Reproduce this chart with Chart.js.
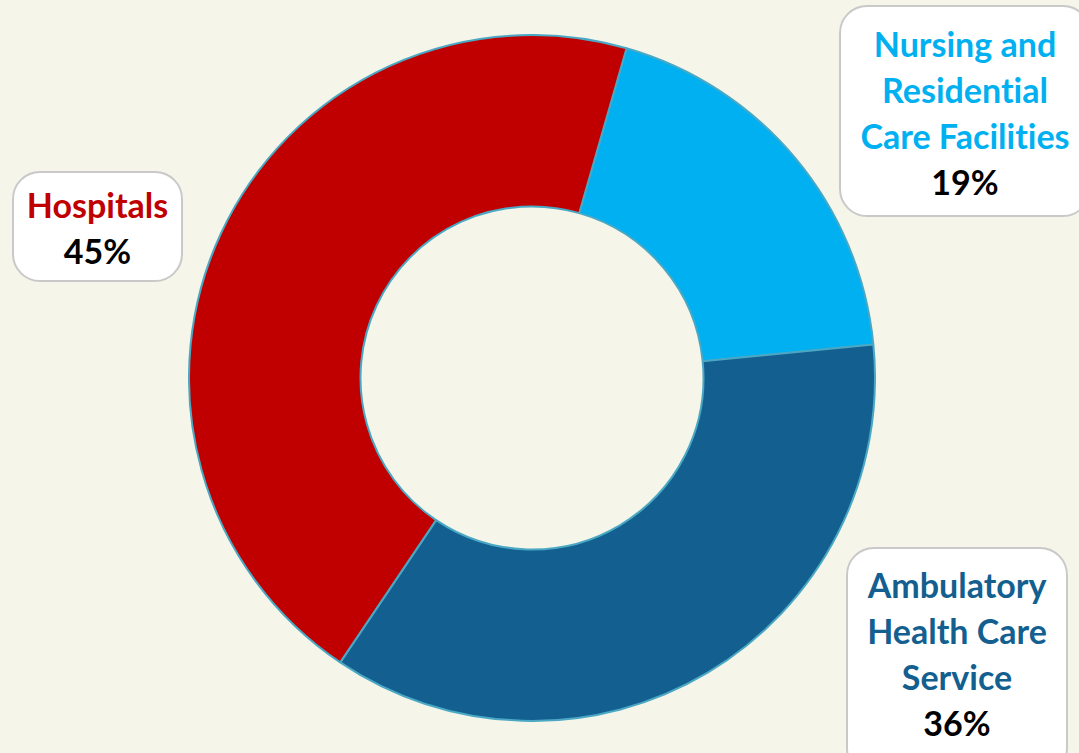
<!DOCTYPE html>
<html>
<head>
<meta charset="utf-8">
<script src="https://cdn.jsdelivr.net/npm/chart.js@4.4.1/dist/chart.umd.min.js"></script>
<style>
  html, body { margin: 0; padding: 0; }
  body { width: 1079px; height: 753px; background: #f5f5e9; position: relative; overflow: hidden; font-family: Lato, "Open Sans", sans-serif; }
  #wrap { position: absolute; left: 188px; top: 34px; width: 688px; height: 688px; }
  .box { position: absolute; box-sizing: border-box; background: #fff; border: 2px solid #c9c9c9; border-radius: 28px; text-align: center; font-weight: bold; font-size: 34px; line-height: 46px; font-variant-ligatures: none; white-space: nowrap; }
  .box .pct { color: #000; }
</style>
</head>
<body>
<div id="wrap"><canvas id="donut"></canvas></div>
<div id="labels"></div>
<script>
// Data
const categories = ['Nursing and Residential Care Facilities', 'Ambulatory Health Care Service', 'Hospitals'];
const labelLines = [['Nursing and', 'Residential', 'Care Facilities'], ['Ambulatory', 'Health Care', 'Service'], ['Hospitals']];
const shares = [19, 36, 45];
const colors = ['#00b0f0', '#135f90', '#c00000'];

// boxes for the callouts
const boxes = [
  { left: 839, top: 5, width: 252, height: 212, pad: 14 },
  { left: 846, top: 547, width: 222, height: 230, pad: 13 },
  { left: 12, top: 171, width: 171, height: 111, pad: 9 }
];

const holder = document.getElementById('labels');
categories.forEach((c, i) => {
  const b = boxes[i];
  const d = document.createElement('div');
  d.className = 'box';
  d.style.left = b.left + 'px';
  d.style.top = b.top + 'px';
  d.style.width = b.width + 'px';
  d.style.height = b.height + 'px';
  d.style.paddingTop = b.pad + 'px';
  d.style.color = colors[i];
  d.innerHTML = labelLines[i].map(t => `<div>${t}</div>`).join('') + `<div class="pct">${shares[i]}%</div>`;
  holder.appendChild(d);
});

new Chart(document.getElementById('donut'), {
  type: 'doughnut',
  data: {
    labels: categories,
    datasets: [{
      data: shares,
      backgroundColor: colors,
      borderColor: '#4aa8c4',
      borderWidth: 2
    }]
  },
  options: {
    responsive: true,
    maintainAspectRatio: false,
    animation: false,
    rotation: 16,
    cutout: '50%',
    layout: { padding: 0 },
    plugins: { legend: { display: false }, tooltip: { enabled: false } }
  }
});
</script>
</body>
</html>
